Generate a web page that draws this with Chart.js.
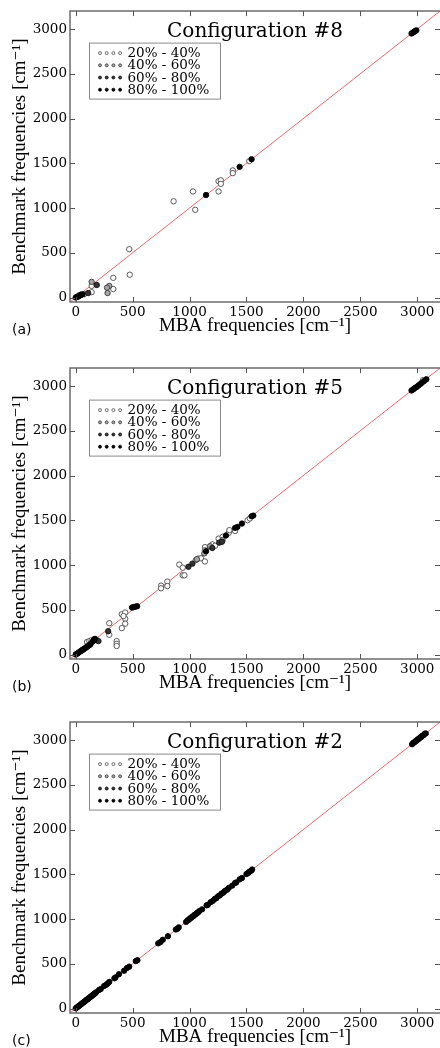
<!DOCTYPE html>
<html>
<head>
<meta charset="utf-8">
<script src="https://cdn.jsdelivr.net/npm/chart.js@4.4.1/dist/chart.umd.min.js"></script>
<style>
  html, body { margin: 0; padding: 0; background: #ffffff; }
  body { width: 440px; height: 1048px; position: relative; overflow: hidden; }
  .panel { position: absolute; left: 0; width: 440px; height: 340px; }
  .panel canvas { display: block; }
</style>
</head>
<body>
<div class="panel" style="top:0px"><canvas id="panelA" width="440" height="340"></canvas></div>
<div class="panel" style="top:357px"><canvas id="panelB" width="440" height="340"></canvas></div>
<div class="panel" style="top:711px"><canvas id="panelC" width="440" height="340"></canvas></div>
<script>
// Axis ticks and labels (shared by all three panels)
const tickValues = [0, 500, 1000, 1500, 2000, 2500, 3000];
const tickLabels = ['0', '500', '1000', '1500', '2000', '2500', '3000'];
const axisMin = -50;
const axisMax = 3200;
const xAxisTitle = 'MBA frequencies [cm⁻¹]';
const yAxisTitle = 'Benchmark frequencies [cm⁻¹]';

// Confidence bands shown in the legend
const bands = ['20% - 40%', '40% - 60%', '60% - 80%', '80% - 100%'];

// Panel titles and tags
const panelTitles = ['Configuration #8', 'Configuration #5', 'Configuration #2'];
const panelTags = ['(a)', '(b)', '(c)'];

// Reference line y = x
const identityLine = [[-50, -50], [3200, 3200]];

// Configuration #8: [MBA, benchmark] pairs per band
const conf8_20_40 = [[470, 540], [475, 255], [860, 1075], [1030, 1185], [1050, 980], [1255, 1300], [1255, 1185],
  [1275, 1310], [1275, 1270], [1380, 1420], [1380, 1390], [1525, 1525], [330, 220], [330, 95], [140, 130],
  [140, 60], [75, 38]];
const conf8_40_60 = [[295, 130], [275, 110], [280, 50], [140, 175], [50, 35], [30, 25]];
const conf8_60_80 = [[185, 140], [110, 50]];
const conf8_80_100 = [[0, 0], [10, 5], [20, 10], [35, 20], [45, 28], [60, 35], [1145, 1145], [1440, 1460],
  [1545, 1545], [2950, 2950], [2962, 2960], [2972, 2968], [2982, 2978], [2992, 2985]];

// Configuration #5
const conf5_20_40 = [[295, 350], [295, 220], [360, 150], [360, 120], [360, 95], [405, 450], [405, 295],
  [435, 470], [435, 400], [435, 345], [420, 430], [750, 770], [750, 740], [805, 815], [805, 765], [910, 1005],
  [940, 970], [940, 885], [955, 885], [1055, 1055], [1075, 1072], [1100, 1075], [1135, 1200], [1135, 1165],
  [1135, 1040], [1200, 1230], [1225, 1215], [1255, 1295], [1290, 1315], [1345, 1360], [1350, 1390],
  [1400, 1380], [1510, 1500], [1530, 1520], [100, 140], [120, 150], [140, 160], [130, 125], [3050, 3065]];
const conf5_40_60 = [[1180, 1210], [1290, 1280], [1130, 1130], [160, 170], [60, 55], [1065, 1065]];
const conf5_60_80 = [[285, 260], [990, 980], [1025, 1015], [1200, 1190], [1260, 1250], [1285, 1260],
  [185, 160], [200, 150]];
const conf5_80_100 = [[0, 0], [10, 8], [20, 15], [30, 25], [40, 35], [50, 42], [60, 50], [70, 60], [80, 68],
  [90, 78], [100, 88], [110, 95], [120, 105], [130, 115], [150, 145], [160, 160], [170, 175], [495, 525],
  [510, 530], [525, 535], [540, 540], [1145, 1155], [1320, 1330], [1400, 1415], [1420, 1425], [1460, 1463],
  [1545, 1545], [1560, 1552], [2950, 2950], [2965, 2962], [2980, 2978], [2995, 2990], [3010, 3005],
  [3025, 3020], [3040, 3035], [3060, 3055], [3080, 3075]];

// Configuration #2
const conf2_20_40 = [];
const conf2_40_60 = [];
const conf2_60_80 = [];
const conf2_80_100 = [[0, 2], [8, 9], [15, 14], [22, 24], [30, 30], [38, 37], [45, 46], [52, 52], [60, 62],
  [68, 67], [75, 76], [82, 80], [90, 92], [98, 97], [105, 106], [112, 110], [120, 122], [128, 127], [135, 137],
  [142, 140], [150, 152], [158, 156], [165, 167], [172, 171], [180, 182], [205, 207], [220, 218], [250, 252],
  [265, 263], [280, 278], [295, 297], [340, 338], [350, 348], [380, 383], [425, 422], [450, 452], [470, 468],
  [528, 530], [542, 540], [725, 728], [745, 743], [765, 768], [810, 808], [880, 883], [895, 892], [905, 907],
  [970, 968], [985, 988], [995, 993], [1005, 1008], [1015, 1013], [1025, 1028], [1035, 1033], [1045, 1048],
  [1055, 1053], [1065, 1068], [1075, 1073], [1085, 1088], [1110, 1108], [1150, 1153], [1160, 1158],
  [1185, 1188], [1205, 1203], [1220, 1223], [1235, 1233], [1250, 1253], [1265, 1263], [1280, 1283],
  [1295, 1293], [1310, 1313], [1330, 1328], [1345, 1348], [1375, 1373], [1400, 1403], [1410, 1408],
  [1440, 1443], [1460, 1458], [1500, 1503], [1515, 1513], [1525, 1528], [1540, 1538], [1550, 1553],
  [2955, 2953], [2965, 2968], [2975, 2973], [2985, 2988], [2995, 2993], [3005, 3008], [3015, 3013],
  [3025, 3028], [3035, 3033], [3045, 3048], [3055, 3053], [3065, 3068], [3075, 3073]];

// Marker styling per band
const bandFill = ['#ffffff', '#a6a6a6', '#333333', '#000000'];
const bandEdge = ['#4a4a4a', '#3a3a3a', '#111111', '#000000'];

const serif = "'DejaVu Serif', serif";
const labelSerif = "'Liberation Serif', 'DejaVu Serif', serif";

const toPoints = pairs => pairs.map(p => ({ x: p[0], y: p[1] }));

// Frame, inward ticks, legend box, inner title and panel tag
const decorations = {
  id: 'decorations',
  afterDatasetsDraw(chart, args, opts) {
    const { ctx, chartArea: a, scales: { x, y } } = chart;
    ctx.save();

    // axes frame (the right spine sits on the canvas edge)
    ctx.strokeStyle = '#6c6c6c';
    ctx.lineWidth = 1.5;
    ctx.beginPath();
    ctx.moveTo(a.right + 1, a.top);
    ctx.lineTo(a.left, a.top);
    ctx.lineTo(a.left, a.bottom);
    ctx.lineTo(a.right + 1, a.bottom);
    ctx.stroke();

    // inward ticks on all four sides
    ctx.lineWidth = 1;
    ctx.strokeStyle = '#555555';
    ctx.beginPath();
    tickValues.forEach(v => {
      const px = Math.round(x.getPixelForValue(v)) + 0.5;
      const py = Math.round(y.getPixelForValue(v)) + 0.5;
      ctx.moveTo(px, a.bottom); ctx.lineTo(px, a.bottom - 5);
      ctx.moveTo(px, a.top); ctx.lineTo(px, a.top + 5);
      ctx.moveTo(a.left, py); ctx.lineTo(a.left + 5, py);
      ctx.moveTo(a.right, py); ctx.lineTo(a.right - 5, py);
    });
    ctx.stroke();

    // title inside the plot
    ctx.fillStyle = '#000000';
    ctx.font = "20px " + serif;
    ctx.textAlign = 'center';
    ctx.textBaseline = 'alphabetic';
    ctx.fillText(opts.title, (a.left + a.right) / 2, a.top + 25.5);

    // legend box
    const lx = a.left + 19, ly = a.top + 31.5, lw = 131, lh = 56;
    ctx.fillStyle = '#ffffff';
    ctx.fillRect(lx, ly, lw, lh);
    ctx.strokeStyle = '#8a8a8a';
    ctx.lineWidth = 1;
    ctx.strokeRect(lx + 0.5, ly + 0.5, lw, lh);
    ctx.font = "13.5px " + serif;
    ctx.textAlign = 'left';
    ctx.textBaseline = 'middle';
    const bandSets = chart.data.datasets.filter(d => d.band !== undefined);
    bandSets.forEach((d, i) => {
      const ry = ly + 10.5 + i * 12.2;
      for (let k = 0; k < 4; k++) {
        ctx.beginPath();
        ctx.arc(lx + 11 + k * 6.7, ry, 1.5, 0, Math.PI * 2);
        ctx.fillStyle = d.backgroundColor;
        ctx.fill();
        ctx.lineWidth = 0.8;
        ctx.strokeStyle = d.borderColor;
        ctx.stroke();
      }
      ctx.fillStyle = '#000000';
      ctx.fillText(d.label, lx + 38.5, ry + 0.5);
    });

    // panel tag
    ctx.font = "14px 'DejaVu Sans', sans-serif";
    ctx.textAlign = 'left';
    ctx.textBaseline = 'middle';
    ctx.fillStyle = '#000000';
    ctx.fillText(opts.tag, 12, a.bottom + 28);

    ctx.restore();
  }
};

function axisOptions(title, isX) {
  return {
    type: 'linear',
    min: axisMin,
    max: axisMax,
    afterBuildTicks: scale => { scale.ticks = tickValues.map(v => ({ value: v })); },
    afterFit: scale => {
      if (isX) { scale.height = 38; } else { scale.width = 70; }
    },
    grid: { display: false, drawTicks: false },
    border: { display: false },
    ticks: {
      padding: isX ? 2 : 3,
      color: '#000000',
      font: { family: serif, size: 13.5 },
      maxRotation: 0,
      callback: value => tickLabels[tickValues.indexOf(value)]
    },
    title: {
      display: true,
      text: title,
      color: '#000000',
      font: { family: labelSerif, size: 19 },
      padding: isX ? { top: 0, bottom: 2.5 } : { top: 8.5, bottom: 0 }
    }
  };
}

function makePanel(canvasId, index, series) {
  const datasets = [{
    type: 'line',
    data: toPoints(identityLine),
    borderColor: '#ee6b6b',
    borderWidth: 1,
    pointRadius: 0,
    fill: false,
    order: 10
  }];
  series.forEach((pairs, i) => {
    datasets.push({
      type: 'scatter',
      label: bands[i],
      band: i,
      data: toPoints(pairs),
      backgroundColor: bandFill[i],
      borderColor: bandEdge[i],
      borderWidth: 0.9,
      pointRadius: 2.7,
      order: 4 - i
    });
  });
  new Chart(document.getElementById(canvasId), {
    type: 'scatter',
    data: { datasets },
    options: {
      responsive: false,
      animation: false,
      devicePixelRatio: 1,
      layout: { autoPadding: false, padding: { top: 11, left: 0, right: 0, bottom: 0 } },
      scales: {
        x: axisOptions(xAxisTitle, true),
        y: axisOptions(yAxisTitle, false)
      },
      plugins: {
        legend: { display: false },
        tooltip: { enabled: false },
        decorations: { title: panelTitles[index], tag: panelTags[index] }
      }
    },
    plugins: [decorations]
  });
}

makePanel('panelA', 0, [conf8_20_40, conf8_40_60, conf8_60_80, conf8_80_100]);
makePanel('panelB', 1, [conf5_20_40, conf5_40_60, conf5_60_80, conf5_80_100]);
makePanel('panelC', 2, [conf2_20_40, conf2_40_60, conf2_60_80, conf2_80_100]);
</script>
</body>
</html>
